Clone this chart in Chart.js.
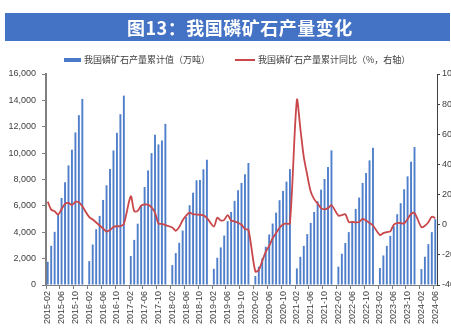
<!DOCTYPE html>
<html lang="zh">
<head>
  <meta charset="UTF-8" />
  <title>图13：我国磷矿石产量变化</title>
  <script src="https://cdn.jsdelivr.net/npm/chart.js"></script>
  <style>
    html, body {
      margin: 0;
      padding: 0;
      width: 451px;
      height: 330px;
      overflow: hidden;
      background: #fff;
      font-family: 'Noto Sans CJK SC', sans-serif;
    }
    .wrap {
      position: absolute;
      left: 0;
      top: 0;
      width: 465px;
      height: 330px;
    }
    .banner {
      position: absolute;
      left: 5px;
      top: 13px;
      width: 445px;
      height: 28px;
      background: #4472c4;
    }
    .banner span {
      position: absolute;
      left: 122px;
      top: 2px;
      color: #fff;
      font-size: 18px;
      font-weight: bold;
      line-height: 24px;
      letter-spacing: 0.5px;
    }
    .legend {
      position: absolute;
      top: 53px;
      font-size: 9px;
      line-height: 14px;
      color: #404040;
      white-space: nowrap;
    }
    .legend i {
      display: inline-block;
      vertical-align: middle;
      margin-right: 3px;
      margin-top: -2px;
    }
    .note {
      position: absolute;
      left: 25px;
      top: 328px;
      font-size: 9px;
      color: #606060;
      white-space: nowrap;
    }
  </style>
</head>
<body>
  <div class="wrap"><canvas id="chart"></canvas></div>
  <div class="banner"><span>图13：我国磷矿石产量变化</span></div>
  <div class="legend" style="left:64px"><i style="width:17px;height:4px;background:#4a7bc8"></i>我国磷矿石产量累计值（万吨）</div>
  <div class="legend" style="left:235px"><i style="width:20px;height:2px;background:#c9474a"></i>我国磷矿石产量累计同比（%，右轴）</div>
  <div class="note">资料来源：Wind，华福证券研究所</div>

  <script>
    // 年份，每年 2-12 月累计值（1 月无数据）
    const years = [2015, 2016, 2017, 2018, 2019, 2020, 2021, 2022, 2023, 2024];

    // 累计产量（万吨），2 月 ~ 12 月
    const output2015 = [1760, 2970, 4030, 5400, 6600, 7790, 9070, 10260, 11570, 12880, 14110];
    const output2016 = [1810, 3070, 4230, 5240, 6450, 7560, 8800, 10200, 11540, 12950, 14360];
    const output2017 = [2200, 3420, 4650, 6050, 7430, 8690, 10000, 11390, 10660, 10960, 12220];
    const output2018 = [1510, 2420, 3200, 4130, 5170, 6050, 7000, 7940, 7960, 8770, 9500];
    const output2019 = [1230, 2070, 2850, 3750, 4840, 5540, 6380, 7180, 7740, 8390, 9250];
    const output2020 = [680, 1390, 2020, 2900, 3830, 4660, 5490, 6430, 7130, 7840, 8790];
    const output2021 = [1260, 2140, 2970, 3860, 4710, 5540, 6350, 7230, 8040, 8950, 10210];
    const output2022 = [1390, 2370, 3180, 4010, 4860, 5770, 6630, 7740, 8490, 9450, 10410];
    const output2023 = [1290, 2240, 2970, 3730, 4460, 5370, 6200, 7260, 8240, 9350, 10460];
    const output2024 = [1210, 2140, 3100, 4010, 4990];

    // 累计同比（%）
    const yoy2015 = [15.3, 10, 8.9, 6.7, 10.4, 13.8, 14.4, 13.1, 15.1, 14.9, 12.2];
    const yoy2016 = [5, 3.5, 1.5, -0.5, -2.5, -4.5, -3.5, -1.5, -1, -1, 0.5];
    const yoy2017 = [18.8, 9, 9.2, 12.7, 13.5, 13.3, 11.5, 8, 0.8, 0.5, -0.3];
    const yoy2018 = [-1.8, -4, -1.5, 3, 6, 8, 7, 6.8, 6.6, 6.2, 4.5];
    const yoy2019 = [-1.2, 4.7, 2.8, 3.2, 6.4, 2.8, 2.2, 1.3, 0, -2.9, -3.4];
    const yoy2020 = [-31, -30, -24, -18, -14, -9, -5.5, -2, 0.2, 0.7, 0.8];
    const yoy2021 = [82.7, 64, 45, 33, 22, 17, 14, 11, 10.2, 11, 13];
    const yoy2022 = [6, 6.4, 7, 1.8, 1.8, 1.6, 1.8, 3.8, 2.7, 1.2, -0.5];
    const yoy2023 = [-6.8, -5.6, -4.9, -4.4, 0, 1.1, 1.1, 0.9, 3.8, 7.1, 7.8];
    const yoy2024 = [-1.6, -0.7, 1.6, 5.3, 4.4];

    const leftTicks = [0, 2000, 4000, 6000, 8000, 10000, 12000, 14000, 16000];
    const rightTicks = [-40, -20, 0, 20, 40, 60, 80, 100];

    const outputByYear = [output2015, output2016, output2017, output2018, output2019,
                          output2020, output2021, output2022, output2023, output2024];
    const yoyByYear = [yoy2015, yoy2016, yoy2017, yoy2018, yoy2019,
                       yoy2020, yoy2021, yoy2022, yoy2023, yoy2024];

    // 按月展开，1 月留空
    const labels = [];
    const output = [];
    const yoy = [];
    years.forEach((y, k) => {
      if (k > 0) {
        labels.push(y + '-01');
        output.push(null);
        yoy.push(null);
      }
      outputByYear[k].forEach((v, m) => {
        labels.push(y + '-' + String(m + 2).padStart(2, '0'));
        output.push(v);
        yoy.push(yoyByYear[k][m]);
      });
    });

    const tickFont = { family: "'Liberation Sans', Arial, sans-serif", size: 9 };
    const axisColor = '#7f7f7f';

    new Chart(document.getElementById('chart'), {
      type: 'bar',
      data: {
        labels: labels,
        datasets: [
          {
            type: 'line',
            label: '我国磷矿石产量累计同比（%，右轴）',
            data: yoy,
            yAxisID: 'y1',
            borderColor: '#c9474a',
            borderWidth: 1.8,
            pointRadius: 0,
            tension: 0.3,
            spanGaps: true,
            order: 0
          },
          {
            label: '我国磷矿石产量累计值（万吨）',
            data: output,
            yAxisID: 'y',
            backgroundColor: '#4f7fcb',
            barPercentage: 0.55,
            categoryPercentage: 1,
            order: 1
          }
        ]
      },
      options: {
        responsive: true,
        maintainAspectRatio: false,
        animation: false,
        layout: { padding: { top: 74, left: 0, right: 0, bottom: 0 } },
        plugins: {
          legend: { display: false },
          title: { display: false },
          tooltip: { enabled: false }
        },
        scales: {
          x: {
            offset: true,
            grid: {
              drawOnChartArea: false,
              tickLength: 4,
              color: ctx => (ctx.index % 4 === 0 ? axisColor : 'rgba(0,0,0,0)')
            },
            border: { color: axisColor, width: 1 },
            ticks: {
              autoSkip: false,
              minRotation: 90,
              maxRotation: 90,
              padding: 2,
              color: '#404040',
              font: tickFont,
              callback: (v, i) => (i % 4 === 0 ? labels[i] : '')
            },
            afterFit: s => { s.height = 45; }
          },
          y: {
            position: 'left',
            min: 0,
            max: 16000,
            afterBuildTicks: s => { s.ticks = leftTicks.map(v => ({ value: v })); },
            grid: { drawOnChartArea: false, tickLength: 4, color: axisColor },
            border: { color: axisColor, width: 2 },
            ticks: { color: '#404040', font: tickFont, padding: 6 },
            afterFit: s => { s.width = 46; }
          },
          y1: {
            position: 'right',
            min: -40,
            max: 100,
            afterBuildTicks: s => { s.ticks = rightTicks.map(v => ({ value: v })); },
            grid: { drawOnChartArea: false, tickLength: 3, color: '#404040' },
            border: { color: '#404040', width: 1 },
            ticks: { color: '#404040', font: tickFont, padding: 2 },
            afterFit: s => { s.width = 28; }
          }
        }
      }
    });
  </script>
</body>
</html>
